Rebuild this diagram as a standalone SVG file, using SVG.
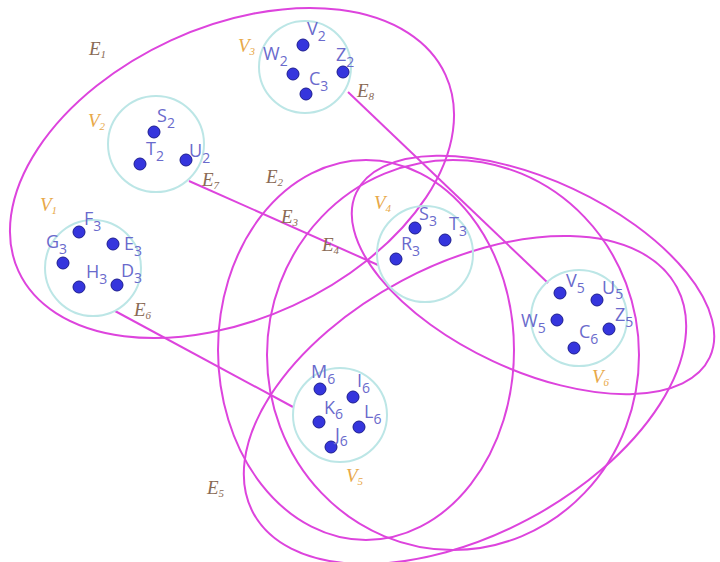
<svg xmlns="http://www.w3.org/2000/svg" width="720" height="562" viewBox="0 0 720 562">
<style>
.edge{fill:none;stroke:#dd44dd;stroke-width:2}
.set{fill:none;stroke:#bce6e6;stroke-width:2}
.dot{fill:#3535dd;stroke:#1c1c90;stroke-width:1}
.lb{font-family:"Open Sans","DejaVu Sans",sans-serif;font-size:18px;fill:#6a6acc}
.sb{font-size:14px}
.vl{font-family:"Liberation Serif",serif;font-style:italic;font-size:19px;fill:#e8a848}
.el{font-family:"Liberation Serif",serif;font-style:italic;font-size:19px;fill:#8a6a55}
.ss{font-size:11px}
</style>
<rect width="720" height="562" fill="#ffffff"/>
<g id="connectors">
<ellipse id="E1" class="edge" cx="232" cy="173" rx="235" ry="146" transform="rotate(-24.7 232 173)"/>
<ellipse id="E2" class="edge" cx="366" cy="350" rx="148" ry="190"/>
<ellipse id="E3" class="edge" cx="453" cy="355" rx="186" ry="195"/>
<ellipse id="E4" class="edge" cx="533" cy="275" rx="195" ry="95" transform="rotate(25 533 275)"/>
<ellipse id="E5" class="edge" cx="465" cy="400" rx="240" ry="135" transform="rotate(-28 465 400)"/>
<line id="E6" class="edge" x1="115" y1="311" x2="293" y2="407"/>
<line id="E7" class="edge" x1="189" y1="181" x2="378" y2="265"/>
<line id="E8" class="edge" x1="348" y1="92" x2="548" y2="283"/>
</g>
<g id="edge-labels">
<text class="el" x="89" y="55">E<tspan class="ss" dy="3">1</tspan></text>
<text class="el" x="266" y="183">E<tspan class="ss" dy="3">2</tspan></text>
<text class="el" x="281" y="223">E<tspan class="ss" dy="3">3</tspan></text>
<text class="el" x="322" y="251">E<tspan class="ss" dy="3">4</tspan></text>
<text class="el" x="207" y="494">E<tspan class="ss" dy="3">5</tspan></text>
<text class="el" x="134" y="316">E<tspan class="ss" dy="3">6</tspan></text>
<text class="el" x="202" y="186">E<tspan class="ss" dy="3">7</tspan></text>
<text class="el" x="357" y="97">E<tspan class="ss" dy="3">8</tspan></text>
</g>
<g id="V1">
<circle class="set" cx="93" cy="268" r="48"/>
<text class="vl" x="40" y="211">V<tspan class="ss" dy="3">1</tspan></text>
<circle class="dot" cx="79" cy="232" r="6"/><text class="lb" x="84" y="225">F<tspan class="sb" dy="6">3</tspan></text>
<circle class="dot" cx="113" cy="244" r="6"/><text class="lb" x="124" y="250">E<tspan class="sb" dy="6">3</tspan></text>
<circle class="dot" cx="63" cy="263" r="6"/><text class="lb" x="46" y="248">G<tspan class="sb" dy="6">3</tspan></text>
<circle class="dot" cx="79" cy="287" r="6"/><text class="lb" x="86" y="278">H<tspan class="sb" dy="6">3</tspan></text>
<circle class="dot" cx="117" cy="285" r="6"/><text class="lb" x="121" y="277">D<tspan class="sb" dy="6">3</tspan></text>
</g>
<g id="V2">
<circle class="set" cx="156" cy="144" r="48"/>
<text class="vl" x="88" y="127">V<tspan class="ss" dy="3">2</tspan></text>
<circle class="dot" cx="154" cy="132" r="6"/><text class="lb" x="157" y="122">S<tspan class="sb" dy="6">2</tspan></text>
<circle class="dot" cx="140" cy="164" r="6"/><text class="lb" x="146" y="155">T<tspan class="sb" dy="6">2</tspan></text>
<circle class="dot" cx="186" cy="160" r="6"/><text class="lb" x="189" y="157">U<tspan class="sb" dy="6">2</tspan></text>
</g>
<g id="V3">
<circle class="set" cx="305" cy="67" r="46"/>
<text class="vl" x="238" y="52">V<tspan class="ss" dy="3">3</tspan></text>
<circle class="dot" cx="303" cy="45" r="6"/><text class="lb" x="307" y="35">V<tspan class="sb" dy="6">2</tspan></text>
<circle class="dot" cx="293" cy="74" r="6"/><text class="lb" x="263" y="60">W<tspan class="sb" dy="6">2</tspan></text>
<circle class="dot" cx="343" cy="72" r="6"/><text class="lb" x="336" y="61">Z<tspan class="sb" dy="6">2</tspan></text>
<circle class="dot" cx="306" cy="94" r="6"/><text class="lb" x="309" y="85">C<tspan class="sb" dy="6">3</tspan></text>
</g>
<g id="V4">
<circle class="set" cx="425" cy="254" r="48"/>
<text class="vl" x="374" y="209">V<tspan class="ss" dy="3">4</tspan></text>
<circle class="dot" cx="415" cy="228" r="6"/><text class="lb" x="419" y="220">S<tspan class="sb" dy="6">3</tspan></text>
<circle class="dot" cx="445" cy="240" r="6"/><text class="lb" x="449" y="230">T<tspan class="sb" dy="6">3</tspan></text>
<circle class="dot" cx="396" cy="259" r="6"/><text class="lb" x="401" y="250">R<tspan class="sb" dy="6">3</tspan></text>
</g>
<g id="V5">
<circle class="set" cx="340" cy="415" r="47"/>
<text class="vl" x="346" y="482">V<tspan class="ss" dy="3">5</tspan></text>
<circle class="dot" cx="320" cy="389" r="6"/><text class="lb" x="311" y="378">M<tspan class="sb" dy="6">6</tspan></text>
<circle class="dot" cx="353" cy="397" r="6"/><text class="lb" x="357" y="387">I<tspan class="sb" dy="6">6</tspan></text>
<circle class="dot" cx="319" cy="422" r="6"/><text class="lb" x="324" y="414">K<tspan class="sb" dy="5">6</tspan></text>
<circle class="dot" cx="359" cy="427" r="6"/><text class="lb" x="364" y="418">L<tspan class="sb" dy="6">6</tspan></text>
<circle class="dot" cx="331" cy="447" r="6"/><text class="lb" x="335" y="441">J<tspan class="sb" dy="5">6</tspan></text>
</g>
<g id="V6">
<circle class="set" cx="579" cy="318" r="48"/>
<text class="vl" x="592" y="383">V<tspan class="ss" dy="3">6</tspan></text>
<circle class="dot" cx="560" cy="293" r="6"/><text class="lb" x="566" y="287">V<tspan class="sb" dy="6">5</tspan></text>
<circle class="dot" cx="597" cy="300" r="6"/><text class="lb" x="602" y="294">U<tspan class="sb" dy="5">5</tspan></text>
<circle class="dot" cx="609" cy="329" r="6"/><text class="lb" x="615" y="321">Z<tspan class="sb" dy="6">5</tspan></text>
<circle class="dot" cx="557" cy="320" r="6"/><text class="lb" x="521" y="327">W<tspan class="sb" dy="6">5</tspan></text>
<circle class="dot" cx="574" cy="348" r="6"/><text class="lb" x="579" y="338">C<tspan class="sb" dy="6">6</tspan></text>
</g>
</svg>
